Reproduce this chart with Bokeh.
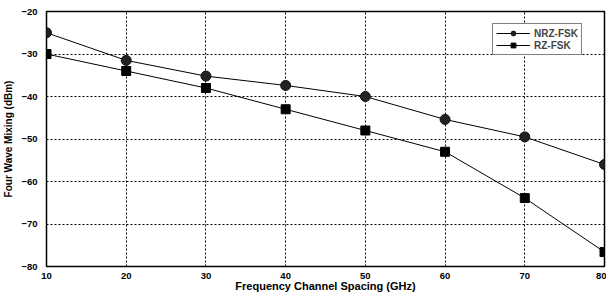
from bokeh.plotting import figure
from bokeh.models import Range1d, FixedTicker, Legend, LegendItem
from bokeh.embed import file_html
from bokeh.resources import INLINE

spacing = [10, 20, 30, 40, 50, 60, 70, 80]
nrz_fsk = [-25, -31.5, -35.2, -37.4, -40, -45.4, -49.5, -56]
rz_fsk = [-30, -34, -38, -43, -48, -53, -63.9, -76.6]
x_ticks = [10, 20, 30, 40, 50, 60, 70, 80]
y_ticks = [-80, -70, -60, -50, -40, -30, -20]

FONT = "Liberation Sans"

p = figure(width=606, height=294, output_backend="svg", toolbar_location=None,
           x_range=Range1d(10, 80), y_range=Range1d(-80, -20),
           min_border_left=40, min_border_right=2, min_border_top=11, min_border_bottom=20)

p.outline_line_color = "black"
p.outline_line_width = 1.5
p.outline_line_alpha = 1

for ax in (p.xaxis[0], p.yaxis[0]):
    ax.axis_line_color = None
    ax.major_tick_line_color = None
    ax.minor_tick_line_color = None
    ax.major_label_text_font = FONT
    ax.major_label_text_font_style = "bold"
    ax.major_label_text_font_size = "9.5px"
    ax.major_label_text_color = "black"
    ax.axis_label_text_font = FONT
    ax.axis_label_text_font_style = "bold"
    ax.axis_label_text_color = "black"

p.xaxis.ticker = FixedTicker(ticks=x_ticks)
p.yaxis.ticker = FixedTicker(ticks=y_ticks)
p.xaxis.major_label_standoff = 0
p.yaxis.major_label_standoff = 3
p.xaxis.axis_label = "Frequency Channel Spacing (GHz)"
p.yaxis.axis_label = "Four Wave Mixing (dBm)"
p.xaxis.axis_label_text_font_size = "11px"
p.yaxis.axis_label_text_font_size = "10px"
p.xaxis.axis_label_standoff = -2
p.yaxis.axis_label_standoff = 4

for g in (p.xgrid[0], p.ygrid[0]):
    g.grid_line_color = "black"
    g.grid_line_dash = "2 2"
    g.grid_line_width = 1
    g.grid_line_alpha = 1

l1 = p.line(spacing, nrz_fsk, line_color="black", line_width=1)
c1 = p.scatter(spacing, nrz_fsk, marker="circle", size=10, fill_color="#222222", line_color="#111111")
l2 = p.line(spacing, rz_fsk, line_color="black", line_width=1)
c2 = p.scatter(spacing, rz_fsk, marker="square", size=9, fill_color="black", line_color="black")

legend = Legend(items=[LegendItem(label="NRZ-FSK", renderers=[l1, c1]),
                       LegendItem(label="RZ-FSK", renderers=[l2, c2])],
                location=(446, 211))
legend.border_line_color = "black"
legend.border_line_width = 1.5
legend.background_fill_color = "white"
legend.background_fill_alpha = 1
legend.label_text_font = FONT
legend.label_text_font_style = "bold"
legend.label_text_font_size = "10px"
legend.label_height = 12
legend.glyph_height = 12
legend.glyph_width = 34
legend.spacing = 0
legend.padding = 3
legend.margin = 0
legend.label_standoff = 4
p.add_layout(legend, "center")

open("out.html", "w").write(file_html(p, INLINE))
